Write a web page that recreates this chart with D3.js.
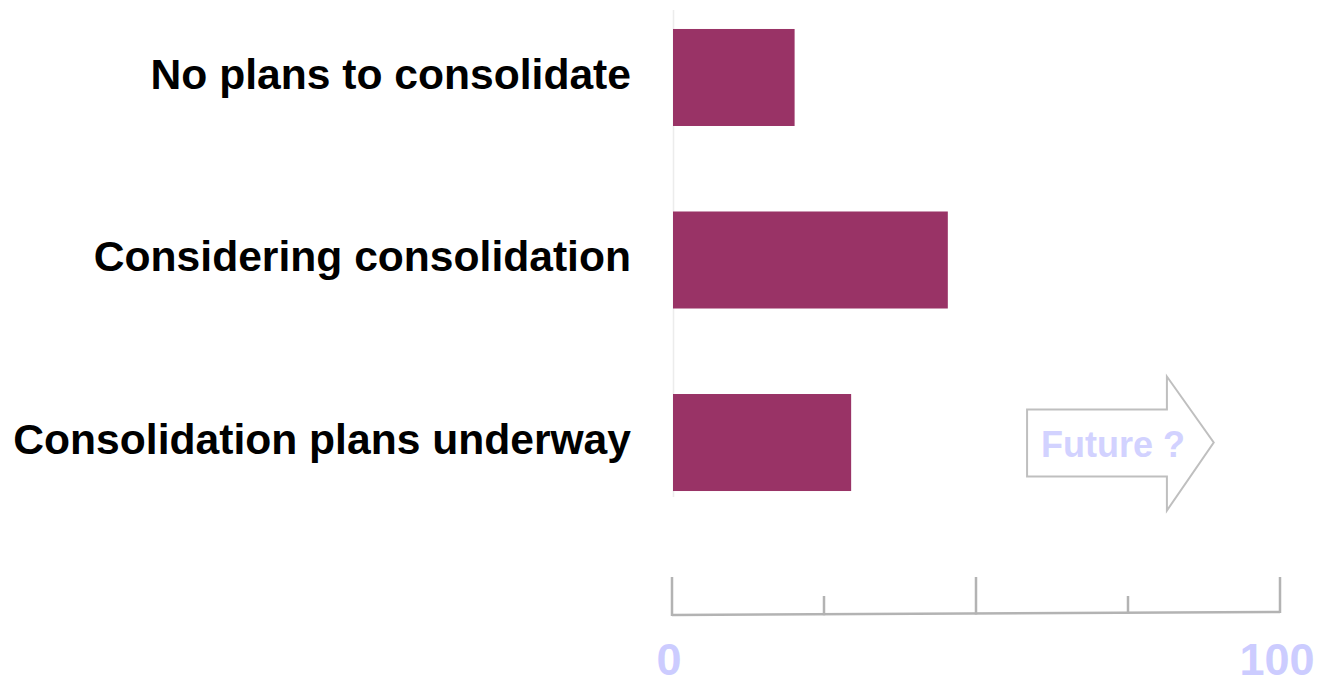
<!DOCTYPE html>
<html>
<head>
<meta charset="utf-8">
<script src="https://cdn.jsdelivr.net/npm/d3@7"></script>
<style>
  html, body { margin: 0; padding: 0; background: #fff; }
  svg { display: block; font-family: "Liberation Sans", Arial, sans-serif; }
</style>
</head>
<body>
<svg id="chart" width="1321" height="680"></svg>
<script>
// Survey answers, one bar each (percent of respondents)
const categories = ["No plans to consolidate", "Considering consolidation", "Consolidation plans underway"];
const values = [20, 45.2, 29.3];
const majorTicks = [0, 50, 100];
const minorTicks = [25, 75];
const tickLabels = ["0", "100"];
const arrowText = "Future ?";

const svg = d3.select("#chart");

const x = d3.scaleLinear().domain([0, 100]).range([672, 1280]);
const y = d3.scaleBand()
  .domain(categories)
  .range([10, 510])
  .paddingInner(0.4685)
  .paddingOuter(0.104);

// faint category axis line
const lastBand = y(categories[categories.length - 1]) + y.bandwidth();
svg.append("line")
  .attr("x1", x(0) + 1.5).attr("x2", x(0) + 1.5)
  .attr("y1", 10).attr("y2", lastBand + 6)
  .attr("stroke", "#ececec").attr("stroke-width", 1.5);

// bars
svg.append("g").selectAll("rect")
  .data(values)
  .join("rect")
  .attr("x", x(0) + 1)
  .attr("y", (d, i) => y(categories[i]))
  .attr("width", d => x(d) - x(0))
  .attr("height", y.bandwidth())
  .attr("fill", "#993366");

// category labels
svg.append("g").selectAll("text")
  .data(categories)
  .join("text")
  .attr("x", 631)
  .attr("y", d => y(d) + y.bandwidth() / 2)
  .attr("dy", "0.26em")
  .attr("text-anchor", "end")
  .attr("font-size", 42.6)
  .attr("font-weight", "bold")
  .attr("fill", "#000")
  .text(d => d);

// value axis: slightly tilted base line with major and minor ticks
const axisY = d => 615 - (x(d) - x(0)) / (x(100) - x(0)) * 3;
const axisG = svg.append("g")
  .attr("stroke", "#b3b3b3").attr("stroke-width", 2.5).attr("fill", "none");
axisG.append("line")
  .attr("x1", x(0)).attr("y1", axisY(0))
  .attr("x2", x(100)).attr("y2", axisY(100));
axisG.selectAll("line.major")
  .data(majorTicks)
  .join("line").attr("class", "major")
  .attr("x1", d => x(d)).attr("x2", d => x(d))
  .attr("y1", 577).attr("y2", d => axisY(d) + 1);
axisG.selectAll("line.minor")
  .data(minorTicks)
  .join("line").attr("class", "minor")
  .attr("x1", d => x(d)).attr("x2", d => x(d))
  .attr("y1", 596).attr("y2", d => axisY(d) + 1);

svg.append("g").selectAll("text")
  .data(tickLabels)
  .join("text")
  .attr("x", d => x(+d) - 3)
  .attr("y", 675)
  .attr("text-anchor", "middle")
  .attr("font-size", 45)
  .attr("font-weight", "bold")
  .attr("fill", "#ccccff")
  .text(d => d);

// "Future ?" outline arrow next to the last bar
const cy = y(categories[2]) + y.bandwidth() / 2;
const ax0 = x(58.4), ax1 = x(81.4), ax2 = x(89.1);
const arrowPts = [
  [ax0, cy - 33], [ax1, cy - 33], [ax1, cy - 66], [ax2, cy],
  [ax1, cy + 68], [ax1, cy + 34], [ax0, cy + 34]
];
svg.append("path")
  .attr("d", d3.line()(arrowPts) + "Z")
  .attr("fill", "#fff")
  .attr("stroke", "#bfbfbf")
  .attr("stroke-width", 2);
svg.append("text")
  .attr("x", ax0 + 14)
  .attr("y", cy + 14)
  .attr("font-size", 36)
  .attr("font-weight", "bold")
  .attr("fill", "#d2d2ff")
  .text(arrowText);
</script>
</body>
</html>
